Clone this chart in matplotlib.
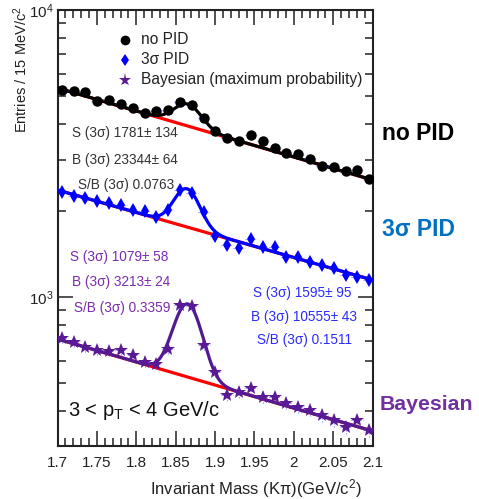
import numpy as np
import matplotlib
matplotlib.use("Agg")
import matplotlib.pyplot as plt
from matplotlib.ticker import FixedLocator, LogLocator, NullFormatter, MultipleLocator

plt.rcParams['font.family'] = ['Liberation Sans', 'DejaVu Sans']
plt.rcParams['mathtext.fontset'] = 'custom'
plt.rcParams['mathtext.rm'] = 'Liberation Sans'
plt.rcParams['mathtext.it'] = 'Liberation Sans:italic'

# ---------------- data ----------------
mass_bins = np.linspace(1.7055, 2.0955, 27)   # bin centres (GeV/c^2)

no_pid = [5264, 5222, 5180, 4818, 4857, 4704, 4555, 4376, 4447, 4483, 4779, 4667,
          4204, 3787, 3581, 3496, 3669, 3496, 3305, 3175, 3150, 3026, 2860, 2838,
          2748, 2770, 2577]
pid_3sigma = [2322, 2248, 2212, 2160, 2126, 2092, 2010, 1994, 1900, 2010, 2359, 2304,
              1978, 1631, 1518, 1482, 1592, 1494, 1494, 1379, 1379, 1324, 1293, 1262,
              1193, 1174, 1146]
bayesian = [720, 697, 670, 654, 648, 654, 628, 594, 584, 659, 938, 930,
            681, 548, 456, 467, 482, 448, 448, 427, 414, 404, 388, 373,
            352, 373, 344]

# fit parameters (no PID, 3sigma PID, Bayesian)
bg_at_low = [5348, 2359, 714]     # background at 1.7
bg_at_high = [2557, 1146, 341]    # background at 2.1
peak_amp = [760, 630, 420]
peak_mean = [1.865, 1.864, 1.865]
peak_sigma = [0.017, 0.0158, 0.017]

series_names = ["no PID", "3\u03c3 PID", "Bayesian (maximum probability)"]
x_ticks = [1.7, 1.75, 1.8, 1.85, 1.9, 1.95, 2.0, 2.05, 2.1]
x_tick_labels = ["1.7", "1.75", "1.8", "1.85", "1.9", "1.95", "2", "2.05", "2.1"]
y_ticks = [1000, 10000]
y_tick_labels = ["$10^{3}$", "$10^{4}$"]

annot_no_pid = ["S (3\u03c3) 1781\u00b1 134", "B (3\u03c3) 23344\u00b1 64", "S/B (3\u03c3) 0.0763"]
annot_3sigma = ["S (3\u03c3) 1595\u00b1 95", "B (3\u03c3) 10555\u00b1 43", "S/B (3\u03c3) 0.1511"]
annot_bayes = ["S (3\u03c3) 1079\u00b1 58", "B (3\u03c3) 3213\u00b1 24", "S/B (3\u03c3) 0.3359"]

# ---------------- figure ----------------
W, H = 479, 499
fig = plt.figure(figsize=(W / 100, H / 100), dpi=100)
ax = fig.add_axes([57.5 / W, 1 - 446 / H, (372.7 - 57.5) / W, (446 - 10) / H])
ax.set_yscale('log')
ax.set_xlim(1.7, 2.1)
ax.set_ylim(302.6, 10000)

xf = np.linspace(1.7, 2.1, 500)
data_sets = [no_pid, pid_3sigma, bayesian]
curve_colors = ['black', '#0000ff', '#521a90']
marker_colors = ['black', '#0000ff', '#5a1a96']
markers = ['o', 'd', '*']
msizes = [7.5, 7, 10]

for k in range(3):
    b0, b1 = bg_at_low[k], bg_at_high[k]
    bg = b0 * (b1 / b0) ** ((xf - 1.7) / 0.4)
    total = bg + peak_amp[k] * np.exp(-0.5 * ((xf - peak_mean[k]) / peak_sigma[k]) ** 2)
    ax.plot(xf, bg, color='#ff0000', lw=2.3, zorder=2)
    ax.plot(xf, total, color=curve_colors[k], lw=2.3, zorder=3)
    y = np.array(data_sets[k], dtype=float)
    eb = ax.errorbar(mass_bins, y, xerr=0.0075, yerr=np.sqrt(y), fmt='none',
                     ecolor='#3050ff', elinewidth=0.8, capsize=0, zorder=4, alpha=0.7)
    for lc in eb[2]:
        lc.set_linestyle(':')
    ax.plot(mass_bins, y, linestyle='none', marker=markers[k], color=marker_colors[k],
            markersize=msizes[k], markeredgewidth=0, zorder=5)

# axes styling
ax.xaxis.set_major_locator(FixedLocator(x_ticks))
ax.set_xticklabels(x_tick_labels)
ax.xaxis.set_minor_locator(MultipleLocator(0.01))
ax.yaxis.set_major_locator(FixedLocator(y_ticks))
ax.set_yticklabels(y_tick_labels)
ax.yaxis.set_minor_locator(LogLocator(base=10, subs=np.arange(2, 10)))
ax.yaxis.set_minor_formatter(NullFormatter())
ax.tick_params(which='both', direction='in', top=True, right=True, width=1.1, colors='#222222',
               labelsize=11, labelcolor='#222222')
ax.tick_params(which='major', length=11, pad=7)
ax.tick_params(which='minor', length=6)
ax.tick_params(axis='y', which='major', pad=3)
for s in ax.spines.values():
    s.set_linewidth(1.5)
    s.set_color('#222222')

fig.text(21 / W, 1 - 70 / H, "Entries / 15 MeV/c$^{2}$", rotation=90, ha='center', va='center',
         fontsize=10.5, color='#222222')
fig.text(362 / W, 1 - 489 / H, "Invariant Mass (K\u03c0)(GeV/c$^{2}$)", ha='right', va='center',
         fontsize=12, color='#222222')

# legend (manual)
leg_y = [40, 60, 80]
for k in range(3):
    ax.plot([125 / W], [1 - leg_y[k] / H], transform=fig.transFigure, marker=markers[k],
            color=marker_colors[k], markersize=msizes[k] - 0.5, markeredgewidth=0, clip_on=False,
            linestyle='none')
    fig.text(141 / W, 1 - leg_y[k] / H, series_names[k], ha='left', va='center',
             fontsize=11.2, color='#222222')

# fit results
def put_block(lines, xs, ys, color):
    for t, xp, yp in zip(lines, xs, ys):
        fig.text(xp / W, 1 - yp / H, t, ha='left', va='center', fontsize=9.8, color=color)

put_block(annot_no_pid, [72, 72, 78], [133, 160, 185], '#333333')
put_block(annot_bayes, [70, 72, 74], [257, 282, 308], '#7b2cb0')
put_block(annot_3sigma, [253, 251, 257], [293, 317, 340], '#2b2bff')

fig.text(68 / W, 1 - 410 / H, "3 < p$_{\\mathregular{T}}$ < 4 GeV/c", ha='left', va='center',
         fontsize=14.5, color='#111111')

fig.text(382 / W, 1 - 134 / H, "no PID", ha='left', va='center', fontsize=16.5,
         fontweight='bold', color='black')
fig.text(382 / W, 1 - 230 / H, "3\u03c3 PID", ha='left', va='center', fontsize=16.5,
         fontweight='bold', color='#0070c0')
fig.text(380 / W, 1 - 405 / H, "Bayesian", ha='left', va='center', fontsize=15.3,
         fontweight='bold', color='#7030a0')

fig.savefig("out.png", dpi=100)
